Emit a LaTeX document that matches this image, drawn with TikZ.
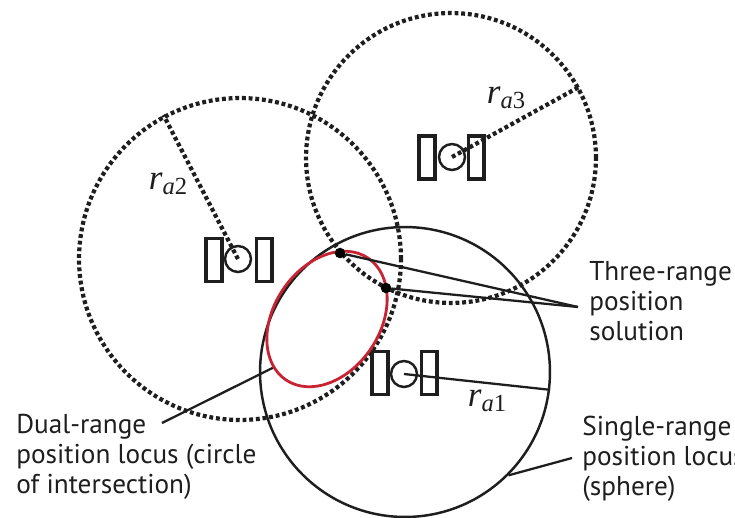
\documentclass[tikz,border=0pt]{standalone}
\usepackage{fontspec}
\setmainfont{PT Sans}
\newfontfamily\mathlabel{Liberation Serif}
\usetikzlibrary{arrows.meta, positioning, calc, shapes.geometric}
\definecolor{locusred}{RGB}{200,35,50}
\definecolor{ink}{RGB}{30,30,30}
\tikzset{
    rangecircle/.style={
        circle,
        draw=ink,
        line width=1.4pt,
        inner sep=0pt
    },
    dottedcircle/.style={
        rangecircle,
        line width=2.4pt,
        dash pattern=on 2.2pt off 1.6pt
    },
    panel/.style={
        rectangle,
        draw=ink,
        line width=2pt,
        inner sep=0pt,
        minimum width=16*0.569pt,
        minimum height=43*0.569pt
    },
    body/.style={
        circle,
        draw=ink,
        line width=1.4pt,
        inner sep=0pt,
        minimum size=26*0.569pt
    },
    fixdot/.style={
        circle,
        fill=black,
        inner sep=0pt,
        minimum size=6pt
    },
    callout/.style={
        font=\fontsize{15.5}{17.07}\selectfont,
        text=ink,
        align=left,
        inner sep=0pt
    },
    rangelabel/.style={
        font=\fontsize{20}{20}\selectfont\mathlabel,
        text=ink,
        inner sep=0pt
    },
    leader/.style={
        draw=ink,
        line width=1.3pt
    },
    dottedline/.style={
        draw=ink,
        line width=2.4pt,
        dash pattern=on 2.2pt off 1.6pt
    }
}
\newcommand{\rangesub}[1]{\raisebox{-3pt}{\fontsize{14}{14}\selectfont\textit{a}#1}}

\begin{document}
\begin{tikzpicture}[x=0.02cm, y=-0.02cm]
\useasboundingbox (0,0) rectangle (735,518);

% =========================
% Range spheres
% =========================
\node[rangecircle, minimum size=290*0.569pt] (sphere1) at (405,372) {};
\node[dottedcircle, minimum size=322*0.569pt] (sphere2) at (240,259) {};
\node[dottedcircle, minimum size=290*0.569pt] (sphere3) at (451,158) {};

% =========================
% Satellites
% =========================
\node[body] (body1) at (404,374) {};
\node[panel, anchor=east] (panel1a) at (389.5,373) {};
\node[panel, anchor=west] (panel1b) at (419.5,373) {};

\node[body] (body2) at (238,259) {};
\node[panel, anchor=east] (panel2a) at (224,260) {};
\node[panel, anchor=west] (panel2b) at (254.5,260) {};

\node[body] (body3) at (452,157) {};
\node[panel, anchor=east] (panel3a) at (436.5,157.5) {};
\node[panel, anchor=west] (panel3b) at (466.5,157.5) {};

% =========================
% Circle of intersection and fixes
% =========================
\node[ellipse, draw=locusred, line width=1.6pt, inner sep=0pt,
      minimum width=147*0.569pt, minimum height=106*0.569pt, rotate=56] (locus) at (327,319) {};

\node[fixdot] (fix1) at (340,253) {};
\node[fixdot] (fix2) at (386,288) {};

% =========================
% Range lines
% =========================
\draw[leader] (body1.center) -- (sphere1.-7);
\draw[dottedline] (body2.center) -- (sphere2.118);
\draw[dottedline] (body3.center) -- (sphere3.29);

% =========================
% Labels
% =========================
\node[rangelabel] (ra1) at (487,401) {\textit{r}\rangesub{1}};
\node[rangelabel] (ra2) at (168,184) {\textit{r}\rangesub{2}};
\node[rangelabel] (ra3) at (506,98) {\textit{r}\rangesub{3}};

\node[callout, anchor=west] (threerange) at (589,301) {Three-range\\position\\solution};
\node[callout, anchor=west] (dualrange) at (16,457) {Dual-range\\position locus (circle\\of intersection)};
\node[callout, anchor=west] (singlerange) at (582,459) {Single-range\\position locus\\(sphere)};

% =========================
% Leaders
% =========================
\coordinate (threetip) at (578,307);
\coordinate (dualtip) at (162,423);
\coordinate (singletip) at (572,458);

\draw[leader] (fix1) -- (threetip);
\draw[leader] (fix2) -- (threetip);
\draw[leader] (locus.166) -- (dualtip);
\draw[leader] (sphere1.-45) -- (singletip);

\end{tikzpicture}
\end{document}
